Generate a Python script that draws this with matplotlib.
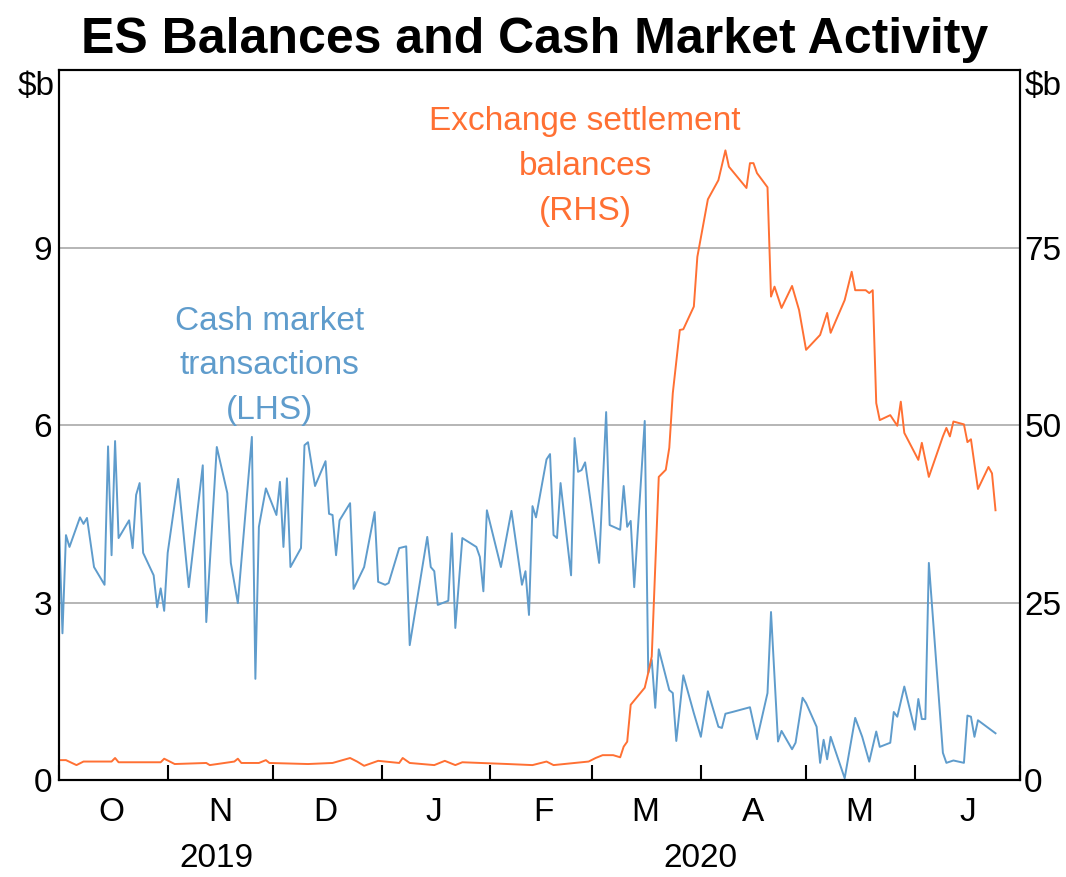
import matplotlib
matplotlib.use('Agg')
import matplotlib.pyplot as plt
import matplotlib.dates as mdates
import matplotlib.transforms as mtransforms
import pandas as pd

plt.rcParams['font.family'] = ['Liberation Sans', 'DejaVu Sans']

# --- Dati ---
# Cash market transactions ($b, asse sinistro)
cash_dates = [
    '2019-10-01', '2019-10-02', '2019-10-03', '2019-10-04', '2019-10-07', '2019-10-08',
    '2019-10-09', '2019-10-11', '2019-10-14', '2019-10-15', '2019-10-16', '2019-10-17',
    '2019-10-18', '2019-10-21', '2019-10-22', '2019-10-23', '2019-10-24', '2019-10-25',
    '2019-10-28', '2019-10-29', '2019-10-30', '2019-10-31', '2019-11-01', '2019-11-04',
    '2019-11-07', '2019-11-11', '2019-11-12', '2019-11-15', '2019-11-18', '2019-11-19',
    '2019-11-21', '2019-11-25', '2019-11-26', '2019-11-27', '2019-11-29', '2019-12-02',
    '2019-12-03', '2019-12-04', '2019-12-05', '2019-12-06', '2019-12-09', '2019-12-10',
    '2019-12-11', '2019-12-13', '2019-12-16', '2019-12-17', '2019-12-18', '2019-12-19',
    '2019-12-20', '2019-12-23', '2019-12-24', '2019-12-27', '2019-12-30', '2019-12-31',
    '2020-01-02', '2020-01-03', '2020-01-06', '2020-01-08', '2020-01-09', '2020-01-14',
    '2020-01-15', '2020-01-16', '2020-01-17', '2020-01-20', '2020-01-21', '2020-01-22',
    '2020-01-24', '2020-01-28', '2020-01-29', '2020-01-30', '2020-01-31', '2020-02-04',
    '2020-02-07', '2020-02-10', '2020-02-11', '2020-02-12', '2020-02-13', '2020-02-14',
    '2020-02-17', '2020-02-18', '2020-02-19', '2020-02-20', '2020-02-21', '2020-02-24',
    '2020-02-25', '2020-02-26', '2020-02-27', '2020-02-28', '2020-03-03', '2020-03-05',
    '2020-03-06', '2020-03-09', '2020-03-10', '2020-03-11', '2020-03-12', '2020-03-13',
    '2020-03-16', '2020-03-17', '2020-03-18', '2020-03-19', '2020-03-20', '2020-03-23',
    '2020-03-24', '2020-03-25', '2020-03-27', '2020-03-30', '2020-04-01', '2020-04-03',
    '2020-04-06', '2020-04-07', '2020-04-08', '2020-04-10', '2020-04-15', '2020-04-17',
    '2020-04-20', '2020-04-21', '2020-04-23', '2020-04-24', '2020-04-27', '2020-04-28',
    '2020-04-30', '2020-05-01', '2020-05-04', '2020-05-05', '2020-05-06', '2020-05-07',
    '2020-05-08', '2020-05-12', '2020-05-15', '2020-05-17', '2020-05-19', '2020-05-21',
    '2020-05-22', '2020-05-25', '2020-05-26', '2020-05-27', '2020-05-29', '2020-06-01',
    '2020-06-02', '2020-06-03', '2020-06-04', '2020-06-05', '2020-06-09', '2020-06-10',
    '2020-06-12', '2020-06-15', '2020-06-16', '2020-06-17', '2020-06-18', '2020-06-19',
    '2020-06-24',
]
cash_values = [
    4.34, 2.48, 4.14, 3.94, 4.44, 4.33,
    4.43, 3.60, 3.30, 5.64, 3.80, 5.73,
    4.09, 4.39, 3.92, 4.82, 5.02, 3.84,
    3.46, 2.92, 3.24, 2.86, 3.84, 5.09,
    3.26, 5.32, 2.67, 5.63, 4.85, 3.67,
    2.99, 5.80, 1.71, 4.28, 4.93, 4.48,
    5.04, 3.94, 5.10, 3.60, 3.92, 5.66,
    5.71, 4.97, 5.39, 4.50, 4.48, 3.80,
    4.39, 4.68, 3.23, 3.60, 4.53, 3.35,
    3.30, 3.33, 3.92, 3.95, 2.28, 4.11,
    3.60, 3.53, 2.96, 3.03, 4.17, 2.57,
    4.09, 3.94, 3.77, 3.19, 4.56, 3.60,
    4.55, 3.30, 3.53, 2.79, 4.63, 4.44,
    5.42, 5.51, 4.14, 4.09, 5.02, 3.46,
    5.78, 5.21, 5.24, 5.37, 3.67, 6.22,
    4.31, 4.23, 4.97, 4.28, 4.38, 3.26,
    6.07, 1.81, 2.03, 1.22, 2.21, 1.52,
    1.47, 0.66, 1.77, 1.13, 0.73, 1.50,
    0.90, 0.88, 1.12, 1.15, 1.23, 0.69,
    1.47, 2.84, 0.65, 0.83, 0.52, 0.63,
    1.39, 1.30, 0.90, 0.29, 0.68, 0.35,
    0.73, 0.03, 1.05, 0.73, 0.31, 0.82,
    0.56, 0.63, 1.15, 1.07, 1.58, 0.85,
    1.37, 1.03, 1.03, 3.67, 0.46, 0.29,
    0.33, 0.29, 1.09, 1.07, 0.73, 1.01,
    0.79,
]

# Exchange settlement balances ($b, asse destro)
es_dates = [
    '2019-10-01', '2019-10-03', '2019-10-06', '2019-10-08', '2019-10-16', '2019-10-17',
    '2019-10-18', '2019-10-30', '2019-10-31', '2019-11-03', '2019-11-12', '2019-11-13',
    '2019-11-20', '2019-11-21', '2019-11-22', '2019-11-27', '2019-11-29', '2019-11-30',
    '2019-12-11', '2019-12-18', '2019-12-23', '2019-12-25', '2019-12-27', '2019-12-31',
    '2020-01-06', '2020-01-07', '2020-01-09', '2020-01-16', '2020-01-19', '2020-01-22',
    '2020-01-24', '2020-02-06', '2020-02-13', '2020-02-17', '2020-02-19', '2020-02-29',
    '2020-03-02', '2020-03-04', '2020-03-07', '2020-03-09', '2020-03-10', '2020-03-11',
    '2020-03-12', '2020-03-16', '2020-03-17', '2020-03-18', '2020-03-20', '2020-03-22',
    '2020-03-23', '2020-03-24', '2020-03-26', '2020-03-27', '2020-03-30', '2020-03-31',
    '2020-04-03', '2020-04-06', '2020-04-08', '2020-04-09', '2020-04-14', '2020-04-15',
    '2020-04-16', '2020-04-17', '2020-04-20', '2020-04-21', '2020-04-22', '2020-04-24',
    '2020-04-27', '2020-04-29', '2020-05-01', '2020-05-05', '2020-05-07', '2020-05-08',
    '2020-05-12', '2020-05-14', '2020-05-15', '2020-05-18', '2020-05-19', '2020-05-20',
    '2020-05-21', '2020-05-22', '2020-05-25', '2020-05-27', '2020-05-28', '2020-05-29',
    '2020-06-02', '2020-06-03', '2020-06-05', '2020-06-09', '2020-06-10', '2020-06-11',
    '2020-06-12', '2020-06-15', '2020-06-16', '2020-06-17', '2020-06-19', '2020-06-22',
    '2020-06-23', '2020-06-24',
]
es_values = [
    2.8, 2.8, 2.1, 2.6, 2.6, 3.1,
    2.5, 2.5, 3.0, 2.25, 2.4, 2.1,
    2.6, 3.0, 2.4, 2.4, 2.8, 2.4,
    2.25, 2.4, 3.1, 2.6, 2.0, 2.7,
    2.4, 3.1, 2.4, 2.1, 2.7, 2.1,
    2.5, 2.25, 2.1, 2.6, 2.1, 2.6,
    3.1, 3.5, 3.5, 3.2, 4.7, 5.4,
    10.6, 13.0, 15.1, 17.4, 42.7, 43.7,
    46.8, 54.5, 63.4, 63.5, 66.7, 73.7,
    81.8, 84.5, 88.7, 86.4, 83.4, 86.9,
    86.9, 85.5, 83.5, 68.1, 69.5, 66.5,
    69.6, 66.2, 60.6, 62.7, 65.8, 63.0,
    67.6, 71.6, 69.0, 69.0, 68.6, 69.0,
    53.1, 50.7, 51.4, 49.9, 53.3, 48.9,
    45.1, 47.5, 42.7, 48.4, 49.6, 48.4,
    50.5, 50.1, 47.6, 48.0, 41.0, 44.1,
    43.2, 38.0,
]

left_ticks = [0, 3, 6, 9]
right_ticks = [0, 25, 50, 75]
month_letters = ['O', 'N', 'D', 'J', 'F', 'M', 'A', 'M', 'J']

cash_label = ['Cash market', 'transactions', '(LHS)']
es_label = ['Exchange settlement', 'balances', '(RHS)']

BLUE = '#5f9ccc'
ORANGE = '#ff7033'
FS = 24


def genera_grafico():
    cash = pd.Series(cash_values, index=pd.to_datetime(cash_dates))
    es = pd.Series(es_values, index=pd.to_datetime(es_dates))

    fig = plt.figure(figsize=(10.66, 8.77), dpi=100)
    ax = fig.add_axes([0.0553, 0.1106, 0.9016, 0.8094])
    ax2 = ax.twinx()

    ax.plot(cash.index, cash.values, color=BLUE, linewidth=1.4)
    ax2.plot(es.index, es.values, color=ORANGE, linewidth=1.4)

    ax.set_xlim(pd.Timestamp('2019-10-01'), pd.Timestamp('2020-07-01'))
    ax.set_ylim(0, 12)
    ax2.set_ylim(0, 100)

    # Griglia orizzontale
    for v in left_ticks[1:]:
        ax.axhline(v, color='#b0b0b0', linewidth=1.3, zorder=0)

    ax.set_yticks(left_ticks)
    ax2.set_yticks(right_ticks)
    ax.tick_params(axis='y', length=0, labelsize=FS, pad=5)
    ax2.tick_params(axis='y', length=0, labelsize=FS, pad=3)

    # Asse x: tacche a inizio mese, etichette a metà mese
    ax.xaxis.set_major_locator(mdates.MonthLocator())
    ax.xaxis.set_major_formatter(plt.NullFormatter())
    ax.xaxis.set_minor_locator(mdates.MonthLocator(bymonthday=16))
    ax.tick_params(axis='x', which='major', direction='in', length=11, width=1.5)
    ax.tick_params(axis='x', which='minor', length=0, labelsize=FS, pad=12)
    ax.set_xticklabels(month_letters, minor=True)

    for a in (ax, ax2):
        for s in a.spines.values():
            s.set_linewidth(1.5)
            s.set_color('black')

    trans = mtransforms.blended_transform_factory(ax.transData, ax.transAxes)
    ax.text(pd.Timestamp('2019-11-15'), -0.110, '2019', transform=trans,
            ha='center', va='center', fontsize=FS)
    ax.text(pd.Timestamp('2020-04-01'), -0.110, '2020', transform=trans,
            ha='center', va='center', fontsize=FS)

    ax.text(-0.004, 0.977, '$b', transform=ax.transAxes, ha='right', va='center', fontsize=FS)
    ax.text(1.005, 0.977, '$b', transform=ax.transAxes, ha='left', va='center', fontsize=FS)

    # Etichette delle serie
    for riga, y in zip(cash_label, [7.61, 6.86, 6.10]):
        ax.text(pd.Timestamp('2019-11-30'), y, riga, color=BLUE, ha='center',
                va='baseline', fontsize=FS)
    for riga, y in zip(es_label, [91.5, 85.2, 78.9]):
        ax2.text(pd.Timestamp('2020-02-28'), y, riga, color=ORANGE, ha='center',
                 va='baseline', fontsize=FS)

    fig.text(0.501, 0.9396, 'ES Balances and Cash Market Activity', fontsize=36,
             fontweight='bold', ha='center', va='baseline')

    fig.savefig('out.png', dpi=100)


if __name__ == "__main__":
    genera_grafico()
